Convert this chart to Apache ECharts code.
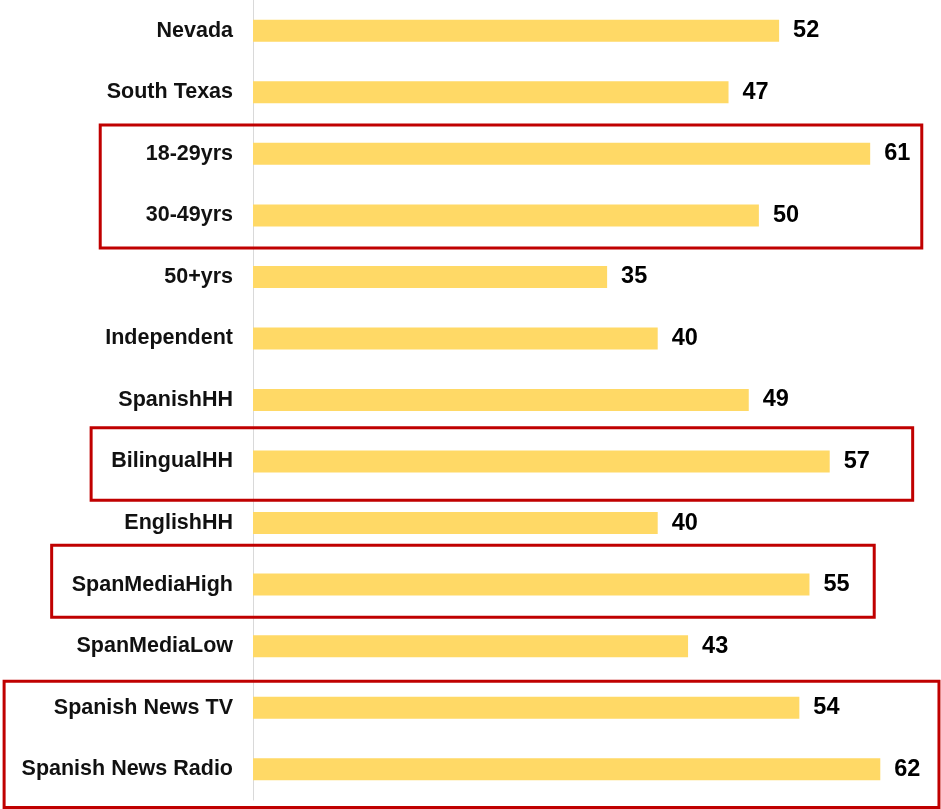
<!DOCTYPE html>
<html>
<head>
<meta charset="utf-8">
<script src="https://cdn.jsdelivr.net/npm/echarts@6/dist/echarts.min.js"></script>
<style>
html,body{margin:0;padding:0;background:#fff;}
#c{width:941px;height:809px;}
</style>
</head>
<body>
<div id="c"></div>
<script>
const categories = ['Nevada','South Texas','18-29yrs','30-49yrs','50+yrs','Independent','SpanishHH','BilingualHH','EnglishHH','SpanMediaHigh','SpanMediaLow','Spanish News TV','Spanish News Radio'];
const values = [52,47,61,50,35,40,49,57,40,55,43,54,62];

// highlight boxes: category span, value-axis extent, padding in row units
const boxFrom = ['18-29yrs','BilingualHH','SpanMediaHigh','Spanish News TV'];
const boxTo   = ['30-49yrs','BilingualHH','SpanMediaHigh','Spanish News Radio'];
const boxX0   = [-15.1,-16.0,-19.9,-24.6];
const boxX1   = [66.1,65.2,61.4,67.8];
const boxPadTop = [0.47,0.55,0.64,0.43];
const boxPadBottom = [0.53,0.63,0.53,0.62];

const chart = echarts.init(document.getElementById('c'));
const font = '"Liberation Sans", Arial, sans-serif';
chart.setOption({
  animation:false,
  backgroundColor:'#ffffff',
  grid:{left:253,right:0,top:-2,bottom:9,containLabel:false},
  xAxis:{type:'value',min:0,max:68,show:false,splitLine:{show:false}},
  yAxis:{
    type:'category',inverse:true,data:categories,
    axisLine:{show:true,lineStyle:{color:'#d9d9d9',width:1}},
    axisTick:{show:false},
    axisLabel:{color:'#111',fontWeight:'bold',fontSize:21.5,fontFamily:font,margin:20}
  },
  series:[{
    type:'bar',data:values,barWidth:22,
    itemStyle:{color:'#FFD966'},
    label:{show:true,position:'right',distance:14,color:'#000',fontWeight:'bold',fontSize:23.5,fontFamily:font}
  }]
});

function drawBoxes(){
  const pitch = chart.convertToPixel({yAxisIndex:0},categories[1]) - chart.convertToPixel({yAxisIndex:0},categories[0]);
  const els = boxFrom.map((f,i)=>{
    const yTop = chart.convertToPixel({yAxisIndex:0},f) - boxPadTop[i]*pitch;
    const yBot = chart.convertToPixel({yAxisIndex:0},boxTo[i]) + boxPadBottom[i]*pitch;
    const xL = chart.convertToPixel({xAxisIndex:0},boxX0[i]);
    const xR = chart.convertToPixel({xAxisIndex:0},boxX1[i]);
    return {type:'rect',z:100,shape:{x:xL,y:yTop,width:xR-xL,height:yBot-yTop},
      style:{fill:null,stroke:'#C00000',lineWidth:3}};
  });
  chart.setOption({graphic:els});
}
drawBoxes();
</script>
</body>
</html>
